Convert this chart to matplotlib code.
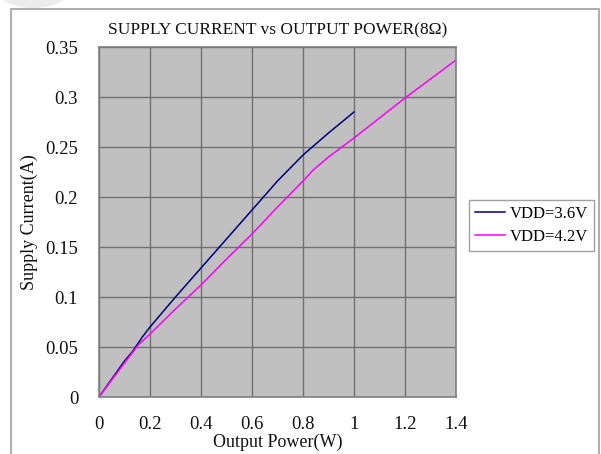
import numpy as np
import matplotlib
matplotlib.use("Agg")
import matplotlib.pyplot as plt
from matplotlib.patches import Rectangle, Circle

# data
power_36 = [0, 0.05, 0.1, 0.13, 0.17, 0.2, 0.3, 0.4, 0.5, 0.6, 0.7, 0.8, 0.9, 1.0]
current_36 = [0, 0.018, 0.036, 0.045, 0.06, 0.07, 0.1, 0.129, 0.158, 0.187, 0.216, 0.242, 0.264, 0.285]

power_42 = [0, 0.05, 0.1, 0.154, 0.2, 0.3, 0.4, 0.5, 0.6, 0.7, 0.8, 0.84, 0.9, 1.0, 1.1, 1.2, 1.3, 1.4]
current_42 = [0, 0.017, 0.034, 0.052, 0.063, 0.088, 0.112, 0.138, 0.163, 0.19, 0.216, 0.227, 0.24, 0.259,
              0.279, 0.299, 0.318, 0.337]

x_ticks = [0, 0.2, 0.4, 0.6, 0.8, 1, 1.2, 1.4]
x_labels = ["0", "0.2", "0.4", "0.6", "0.8", "1", "1.2", "1.4"]
y_ticks = [0, 0.05, 0.1, 0.15, 0.2, 0.25, 0.3, 0.35]
y_labels = ["0", "0.05", "0.1", "0.15", "0.2", "0.25", "0.3", "0.35"]

plt.rcParams['font.family'] = ['Liberation Serif', 'DejaVu Serif']

W, H = 601, 454
fig = plt.figure(figsize=(W / 100, H / 100), dpi=100)

# outer frame and faint corner circle
fig.patches.append(Circle((33 / W, 1 + 28 / H), 48 / W, transform=fig.transFigure,
                          facecolor="#ececec", edgecolor="none", zorder=0))
fig.patches.append(Rectangle((11 / W, -0.1), 588 / W, 1.1 - 9.5 / H, transform=fig.transFigure,
                             facecolor="none", edgecolor="#a0a0a0", linewidth=1.2, zorder=1))

ax = fig.add_axes([99 / W, 1 - 397 / H, 357 / W, 350 / H])
ax.set_facecolor("#c0c0c0")

ax.plot(power_36, current_36, color="#000080", linewidth=1.1, label="VDD=3.6V")
ax.plot(power_42, current_42, color="#ff00ff", linewidth=1.1, label="VDD=4.2V")

ax.set_xlim(0, 1.4)
ax.set_ylim(0, 0.35)
ax.set_xticks(x_ticks)
ax.set_xticklabels(x_labels)
ax.set_yticks(y_ticks)
ax.set_yticklabels(y_labels)
ax.tick_params(length=0, labelsize=13.5, colors="#111111")
ax.tick_params(axis="x", pad=14)
ax.tick_params(axis="y", pad=15)
ax.grid(True, color="#707070", linewidth=1.0)
ax.set_axisbelow(True)
for s in ax.spines.values():
    s.set_color("#808080")
    s.set_linewidth(1.2)

ax.set_title("SUPPLY CURRENT vs OUTPUT POWER(8Ω)", fontsize=12.5, pad=9, color="#111111")
ax.set_xlabel("Output Power(W)", fontsize=13, labelpad=0, color="#111111")
ax.set_ylabel("Supply Current(A)", fontsize=13, labelpad=5, color="#111111")

leg = fig.legend(loc="upper right", bbox_to_anchor=(594 / W, 1 - 200 / H), fontsize=12,
                 frameon=True, fancybox=False, framealpha=1, edgecolor="#a0a0a0",
                 handlelength=1.8, handletextpad=0.3, borderpad=0.35, labelspacing=0.45,
                 borderaxespad=0)
leg.get_frame().set_linewidth(1.0)

fig.savefig("out.png", dpi=100)
